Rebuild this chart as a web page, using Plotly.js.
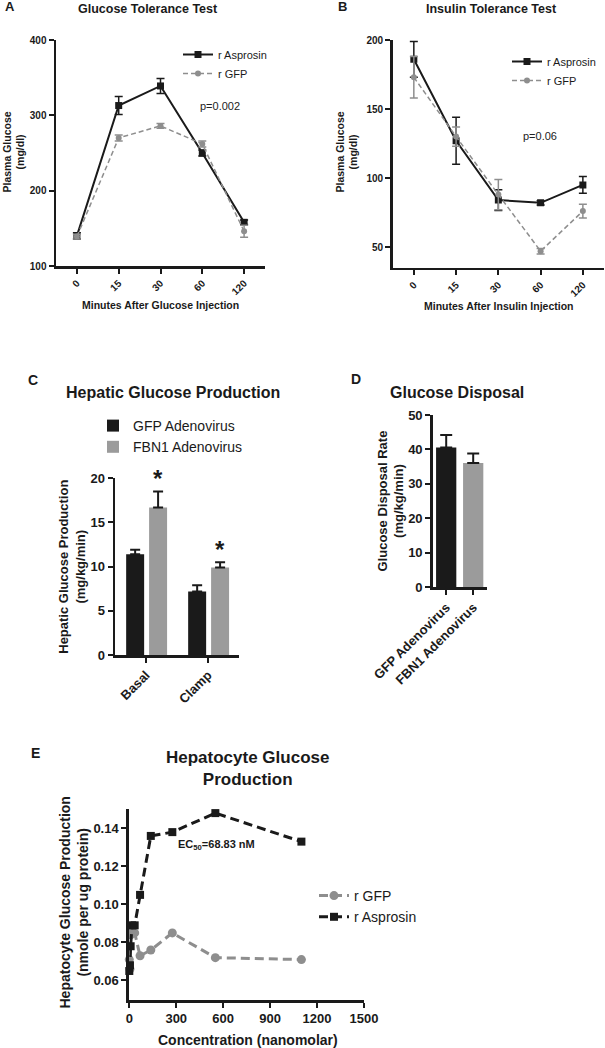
<!DOCTYPE html>
<html><head><meta charset="utf-8">
<script src="https://cdn.plot.ly/plotly-3.0.1.min.js"></script>
<style>html,body{margin:0;padding:0;background:#fff;} #chart{width:605px;height:1048px;}</style>
</head><body><div id="chart"></div>
<script>
// ---------- DATA ----------
// A: Glucose tolerance test
const gttTimes = ['0', '15', '30', '60', '120'];
const gttAsprosin = [140, 313, 339, 250, 158];
const gttAsprosinErr = [4, 12, 10, 4, 3];
const gttGFP = [139, 270, 286, 262, 146];
const gttGFPErr = [3, 4, 3, 4, 8];

// B: Insulin tolerance test
const ittTimes = ['0', '15', '30', '60', '120'];
const ittAsprosin = [186, 127, 84, 82, 95];
const ittAsprosinErr = [13, 17, 7.5, 1.5, 6];
const ittGFP = [173, 130, 88, 47, 76];
const ittGFPErr = [15, 7, 11, 2, 5];

// C: Hepatic glucose production
const hgpCats = ['Basal', 'Clamp'];
const hgpGFP = [11.4, 7.2];
const hgpGFPErr = [0.5, 0.7];
const hgpFBN1 = [16.7, 9.9];
const hgpFBN1Err = [1.8, 0.6];
const hgpSig = ['*', '*'];

// D: Glucose disposal
const gdCats = ['GFP Adenovirus', 'FBN1 Adenovirus'];
const gdValues = [40.6, 36.1];
const gdErr = [3.6, 2.7];

// E: Hepatocyte glucose production
const concNM = [0, 4.3, 8.6, 17.2, 34.4, 68.75, 137.5, 275, 550, 1100];
const hepAsprosin = [0.065, 0.068, 0.078, 0.089, 0.089, 0.105, 0.136, 0.138, 0.148, 0.133];
const hepGFP = [0.071, 0.066, 0.084, 0.088, 0.085, 0.073, 0.076, 0.085, 0.072, 0.071];

// ---------- STYLE ----------
const W = 605, H = 1048;
const fx = p => p / W;
const fy = p => 1 - p / H;
const INK = '#1a1a1a', GRAY = '#8e8e8e', BARGRAY = '#9b9b9b';
const FONT = 'Liberation Sans, Arial, Helvetica, sans-serif';

function ax(extra) {
  return Object.assign({
    showline: true, linecolor: INK, linewidth: 2.5,
    ticks: 'outside', ticklen: 5, tickwidth: 2, tickcolor: INK,
    showgrid: false, zeroline: false, fixedrange: true,
    tickfont: {family: FONT, size: 10, color: INK, weight: 'bold'}
  }, extra);
}

const traces = [
  // A
  {type: 'scatter', mode: 'lines+markers', name: 'r Asprosin', x: gttTimes, y: gttAsprosin,
   xaxis: 'x', yaxis: 'y', legend: 'legend',
   line: {color: INK, width: 2}, marker: {symbol: 'square', size: 7, color: INK},
   error_y: {type: 'data', array: gttAsprosinErr, color: INK, thickness: 1.5, width: 4}},
  {type: 'scatter', mode: 'lines+markers', name: 'r GFP', x: gttTimes, y: gttGFP,
   xaxis: 'x', yaxis: 'y', legend: 'legend',
   line: {color: GRAY, width: 1.5, dash: '5px,3px'}, marker: {symbol: 'circle', size: 6, color: GRAY},
   error_y: {type: 'data', array: gttGFPErr, color: GRAY, thickness: 1.5, width: 4}},
  // B
  {type: 'scatter', mode: 'lines+markers', name: 'r Asprosin', x: ittTimes, y: ittAsprosin,
   xaxis: 'x2', yaxis: 'y2', legend: 'legend2',
   line: {color: INK, width: 2}, marker: {symbol: 'square', size: 7, color: INK},
   error_y: {type: 'data', array: ittAsprosinErr, color: INK, thickness: 1.5, width: 4}},
  {type: 'scatter', mode: 'lines+markers', name: 'r GFP', x: ittTimes, y: ittGFP,
   xaxis: 'x2', yaxis: 'y2', legend: 'legend2',
   line: {color: GRAY, width: 1.5, dash: '5px,3px'}, marker: {symbol: 'circle', size: 6, color: GRAY},
   error_y: {type: 'data', array: ittGFPErr, color: GRAY, thickness: 1.5, width: 4}},
  // C
  {type: 'bar', name: 'GFP Adenovirus', x: hgpCats, y: hgpGFP, xaxis: 'x3', yaxis: 'y3', legend: 'legend3',
   width: 0.29, offset: -0.32, marker: {color: INK, line: {width: 0}},
   error_y: {type: 'data', symmetric: false, array: hgpGFPErr, arrayminus: hgpGFPErr.map(() => 0), color: INK, thickness: 2, width: 5}},
  {type: 'bar', name: 'FBN1 Adenovirus', x: hgpCats, y: hgpFBN1, xaxis: 'x3', yaxis: 'y3', legend: 'legend3',
   width: 0.29, offset: 0.05, marker: {color: BARGRAY, line: {width: 0}},
   error_y: {type: 'data', symmetric: false, array: hgpFBN1Err, arrayminus: hgpFBN1Err.map(() => 0), color: INK, thickness: 2, width: 5}},
  // D
  {type: 'bar', name: 'Glucose Disposal', x: gdCats, y: gdValues, xaxis: 'x4', yaxis: 'y4', showlegend: false,
   width: 0.75, marker: {color: [INK, BARGRAY], line: {width: 0}},
   error_y: {type: 'data', symmetric: false, array: gdErr, arrayminus: gdErr.map(() => 0), color: INK, thickness: 2, width: 6}},
  // E (GFP listed first in legend)
  {type: 'scatter', mode: 'lines+markers', name: 'r GFP', x: concNM, y: hepGFP, xaxis: 'x5', yaxis: 'y5', legend: 'legend4',
   cliponaxis: false, line: {color: GRAY, width: 3, dash: '9px,5px'}, marker: {symbol: 'circle', size: 9, color: GRAY}},
  {type: 'scatter', mode: 'lines+markers', name: 'r Asprosin', x: concNM, y: hepAsprosin, xaxis: 'x5', yaxis: 'y5', legend: 'legend4',
   cliponaxis: false, line: {color: INK, width: 3, dash: '9px,5px'}, marker: {symbol: 'square', size: 8, color: INK}}
];

function ann(text, x, y, size, extra) {
  return Object.assign({text: text, x: fx(x), y: fy(y), xref: 'paper', yref: 'paper',
    xanchor: 'center', yanchor: 'middle', showarrow: false,
    font: {family: FONT, size: size, color: INK, weight: 'bold'}}, extra || {});
}

const annotations = [
  ann('A', 10, 7, 13),
  ann('Glucose Tolerance Test', 148, 9, 12.5),
  ann('Plasma Glucose<br>(mg/dl)', 13.5, 152, 10.5, {textangle: -90}),
  ann('Minutes After Glucose Injection', 160.7, 305, 10.5),
  ann('p=0.002', 220, 106, 11, {font: {family: FONT, size: 11, color: '#222222', weight: 'normal'}}),

  ann('B', 342, 7, 13),
  ann('Insulin Tolerance Test', 491.7, 9, 12.5),
  ann('Plasma Glucose<br>(mg/dl)', 346.5, 152, 10.5, {textangle: -90}),
  ann('Minutes After Insulin Injection', 498.7, 306, 10.5),
  ann('p=0.06', 540, 136, 11, {font: {family: FONT, size: 11, color: '#222222', weight: 'normal'}}),

  ann('C', 33, 380, 14),
  ann('Hepatic Glucose Production', 172.5, 392, 16),
  ann('Hepatic Glucose Production<br>(mg/kg/min)', 71.75, 567, 13, {textangle: -90}),

  ann('D', 356, 379, 14),
  ann('Glucose Disposal', 457, 392.7, 16),
  ann('Glucose Disposal Rate<br>(mg/kg/min)', 390.5, 501, 13, {textangle: -90}),

  ann('E', 35, 753, 14),
  ann('Hepatocyte Glucose<br>Production', 247, 768, 17),
  ann('Hepatocyte Glucose Production<br>(nmole per ug protein)', 73.5, 903, 14, {textangle: -90}),
  ann('Concentration (nanomolar)', 248, 1040, 14),
  ann('EC<sub>50</sub>=68.83 nM', 216, 845, 11)
];

// significance asterisks above FBN1 bars
hgpCats.forEach((c, i) => {
  annotations.push({text: hgpSig[i], xref: 'x3', yref: 'y3', x: c, y: hgpFBN1[i] + hgpFBN1Err[i],
    xshift: 12, yshift: 13, xanchor: 'center', yanchor: 'middle', showarrow: false,
    font: {family: FONT, size: 24, color: INK, weight: 'bold'}});
});

const legFont = s => ({family: FONT, size: s, color: INK});
const layout = {
  width: W, height: H, margin: {l: 0, r: 0, t: 0, b: 0},
  paper_bgcolor: '#fff', plot_bgcolor: 'rgba(0,0,0,0)',
  showlegend: true, barmode: 'overlay',
  font: {family: FONT, color: INK},
  xaxis: ax({type: 'category', domain: [fx(56), fx(265)], anchor: 'y', range: [-0.5, 4.5], tickangle: -45}),
  yaxis: ax({domain: [fy(266), fy(40)], anchor: 'x', range: [100, 400], tickvals: [100, 200, 300, 400]}),
  xaxis2: ax({type: 'category', domain: [fx(392.7), fx(604)], anchor: 'y2', range: [-0.5, 4.5], tickangle: -45}),
  yaxis2: ax({domain: [fy(267.7), fy(40)], anchor: 'x2', range: [35, 200], tickvals: [50, 100, 150, 200]}),
  xaxis3: ax({type: 'category', domain: [fx(115), fx(239)], anchor: 'y3', range: [-0.5, 1.5], tickangle: -45,
    tickfont: {family: FONT, size: 13, color: INK, weight: 'bold'}}),
  yaxis3: ax({domain: [fy(655), fy(478.3)], anchor: 'x3', range: [0, 20], tickvals: [0, 5, 10, 15, 20],
    tickfont: {family: FONT, size: 13, color: INK, weight: 'bold'}}),
  xaxis4: ax({type: 'category', domain: [fx(432.7), fx(486.7)], anchor: 'y4', range: [-0.5, 1.5], tickangle: -45,
    tickfont: {family: FONT, size: 13, color: INK, weight: 'bold'}}),
  yaxis4: ax({domain: [fy(587.3), fy(415)], anchor: 'x4', range: [0, 50], tickvals: [0, 10, 20, 30, 40, 50],
    tickfont: {family: FONT, size: 13, color: INK, weight: 'bold'}}),
  xaxis5: ax({domain: [fx(129.3), fx(364)], anchor: 'y5', range: [0, 1500], tickvals: [0, 300, 600, 900, 1200, 1500],
    linewidth: 3, tickfont: {family: FONT, size: 13, color: INK, weight: 'bold'}}),
  yaxis5: ax({domain: [fy(999.5), fy(809.3)], anchor: 'x5', range: [0.05, 0.15], tickvals: [0.06, 0.08, 0.10, 0.12, 0.14],
    tickformat: '.2f', linewidth: 3, tickfont: {family: FONT, size: 13, color: INK, weight: 'bold'}}),
  legend: {x: fx(178), y: fy(40), xanchor: 'left', yanchor: 'top', font: legFont(11), bgcolor: 'rgba(0,0,0,0)', itemwidth: 30},
  legend2: {x: fx(507), y: fy(47), xanchor: 'left', yanchor: 'top', font: legFont(11), bgcolor: 'rgba(0,0,0,0)', itemwidth: 30},
  legend3: {x: fx(93), y: fy(410), xanchor: 'left', yanchor: 'top', font: legFont(14), bgcolor: 'rgba(0,0,0,0)', itemwidth: 30},
  legend4: {x: fx(314), y: fy(880), xanchor: 'left', yanchor: 'top', font: legFont(14), bgcolor: 'rgba(0,0,0,0)', itemwidth: 30},
  annotations: annotations
};

Plotly.newPlot('chart', traces, layout, {staticPlot: true, displayModeBar: false});
</script>
</body></html>
